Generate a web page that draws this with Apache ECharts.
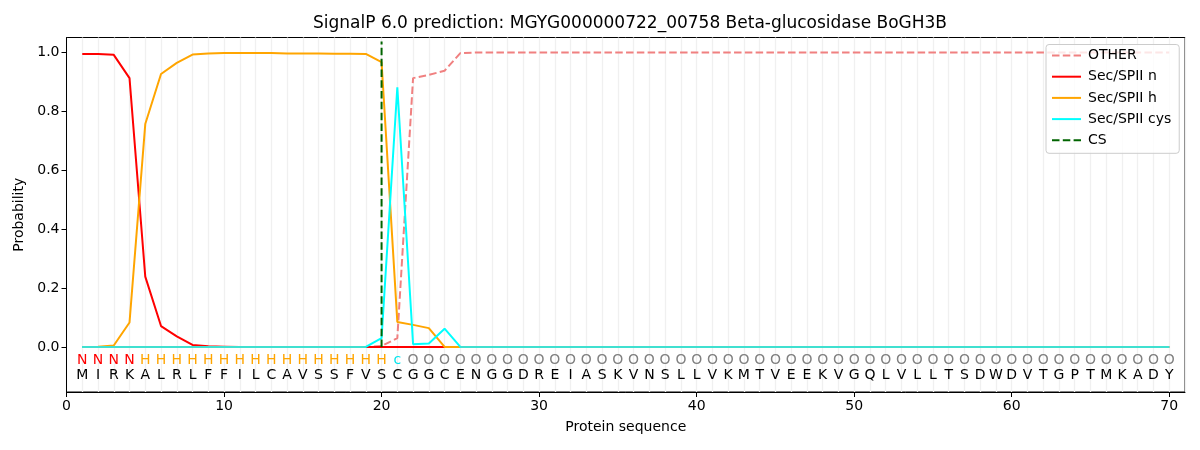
<!DOCTYPE html>
<html>
<head>
<meta charset="utf-8">
<script src="https://cdn.jsdelivr.net/npm/echarts@6/dist/echarts.min.js"></script>
<style>html,body{margin:0;padding:0;background:#fff}#c{width:1200px;height:450px}</style>
</head>
<body>
<div id="c"></div>
<script>
const titleText = 'SignalP 6.0 prediction: MGYG000000722_00758 Beta-glucosidase BoGH3B';
const sequence = ['M','I','R','K','A','L','R','L','F','F','I','L','C','A','V','S','S','F','V','S','C','G','G','C','E','N','G','G','D','R','E','I','A','S','K','V','N','S','L','L','V','K','M','T','V','E','E','K','V','G','Q','L','V','L','L','T','S','D','W','D','V','T','G','P','T','M','K','A','D','Y'];
const regionLabels = ['N','N','N','N','H','H','H','H','H','H','H','H','H','H','H','H','H','H','H','H','c','O','O','O','O','O','O','O','O','O','O','O','O','O','O','O','O','O','O','O','O','O','O','O','O','O','O','O','O','O','O','O','O','O','O','O','O','O','O','O','O','O','O','O','O','O','O','O','O','O'];
const otherProb = [0,0,0,0,0,0,0,0,0,0,0,0,0,0,0,0,0,0,0,0.003,0.03,0.913,0.924,0.938,0.998,1,1,1,1,1,1,1,1,1,1,1,1,1,1,1,1,1,1,1,1,1,1,1,1,1,1,1,1,1,1,1,1,1,1,1,1,1,1,1,1,1,1,1,1,1];
const nProb = [0.995,0.995,0.992,0.913,0.239,0.071,0.036,0.007,0.002,0.001,0,0,0,0,0,0,0,0,0,0,0,0,0,0,0,0,0,0,0,0,0,0,0,0,0,0,0,0,0,0,0,0,0,0,0,0,0,0,0,0,0,0,0,0,0,0,0,0,0,0,0,0,0,0,0,0,0,0,0,0];
const hProb = [0,0.001,0.005,0.083,0.757,0.927,0.965,0.993,0.997,0.998,0.998,0.998,0.998,0.997,0.997,0.997,0.996,0.996,0.995,0.967,0.085,0.075,0.064,0,0,0,0,0,0,0,0,0,0,0,0,0,0,0,0,0,0,0,0,0,0,0,0,0,0,0,0,0,0,0,0,0,0,0,0,0,0,0,0,0,0,0,0,0,0,0];
const cysProb = [0,0,0,0,0,0,0,0,0,0,0,0,0,0,0,0,0,0,0,0.03,0.882,0.009,0.012,0.062,0,0,0,0,0,0,0,0,0,0,0,0,0,0,0,0,0,0,0,0,0,0,0,0,0,0,0,0,0,0,0,0,0,0,0,0,0,0,0,0,0,0,0,0,0,0];
const baselineProb = [0,0,0,0,0,0,0,0,0,0,0,0,0,0,0,0,0,0,0,null,null,null,null,null,0,0,0,0,0,0,0,0,0,0,0,0,0,0,0,0,0,0,0,0,0,0,0,0,0,0,0,0,0,0,0,0,0,0,0,0,0,0,0,0,0,0,0,0,0,0];
const csPosition = 20;
const csTop = 1.037;
const xTicks = [0,10,20,30,40,50,60,70];
const yTicks = [0,0.2,0.4,0.6,0.8,1.0];
const regionRowY = -0.047;
const seqRowY = -0.096;

const regionColors = {N:'#ff0000', H:'#ffa500', c:'#00e5ee', O:'#808080'};
const positions = sequence.map((_, i) => i + 1);
const pairs = arr => arr.map((v, i) => [positions[i], v]);

const regionData = regionLabels.map((l, i) => [positions[i], regionRowY, l]);
const seqData = sequence.map((l, i) => [positions[i], seqRowY, l]);

function textSeries(data, colorFn) {
  return {
    type: 'custom', xAxisIndex: 0, yAxisIndex: 0, silent: true, z: 20,
    data: data,
    renderItem: function (params, api) {
      const p = api.coord([api.value(0), api.value(1)]);
      const t = data[params.dataIndex][2];
      return { type: 'text', style: { text: t, x: p[0], y: p[1], fill: colorFn(t), align: 'center', verticalAlign: 'middle', font: '14px "DejaVu Sans"' } };
    }
  };
}

const font = '"DejaVu Sans", sans-serif';
const chart = echarts.init(document.getElementById('c'));
chart.setOption({
  animation: false,
  backgroundColor: '#fff',
  textStyle: { fontFamily: font },
  title: { text: titleText, left: 625, top: 10, textAlign: 'center', textStyle: { fontFamily: font, fontSize: 17, fontWeight: 'normal', color: '#000' } },
  grid: { left: 66.5, right: 15, top: 37.5, bottom: 58, show: true, borderColor: '#000', borderWidth: 1, backgroundColor: 'transparent' },
  legend: {
    left: 1046, top: 44.5, orient: 'vertical',
    backgroundColor: 'rgba(255,255,255,0.8)', borderColor: '#cccccc', borderWidth: 1, borderRadius: 3,
    padding: [4, 8, 6, 5], itemWidth: 29, itemHeight: 14, itemGap: 7.2,
    itemStyle: { color: 'rgba(0,0,0,0)', borderWidth: 0, opacity: 0 },
    textStyle: { fontFamily: font, fontSize: 14, color: '#000', padding: [0, 0, 0, 2] },
    data: ['OTHER', 'Sec/SPII n', 'Sec/SPII h', 'Sec/SPII cys', 'CS']
  },
  xAxis: [
    { type: 'value', min: 0, max: 71, interval: 10, name: 'Protein sequence', nameLocation: 'middle', nameGap: 28,
      nameTextStyle: { fontFamily: font, fontSize: 14, color: '#000' },
      axisLine: { show: true, onZero: false, lineStyle: { color: '#000', width: 1 } },
      axisTick: { show: true, length: 5, lineStyle: { color: '#000' }, customValues: xTicks },
      axisLabel: { fontFamily: font, fontSize: 14, color: '#000', margin: 7, customValues: xTicks, formatter: v => String(v) },
      splitLine: { show: false } },
    { type: 'value', min: 0, max: 71, interval: 1, show: true, position: 'bottom', gridIndex: 0,
      axisLine: { show: false }, axisTick: { show: false }, axisLabel: { show: false },
      splitLine: { show: true, lineStyle: { color: '#f0f0f0', width: 1.3 } } }
  ],
  yAxis: {
    type: 'value', min: -0.153, max: 1.051, name: 'Probability', nameLocation: 'middle', nameGap: 38,
    nameTextStyle: { fontFamily: font, fontSize: 14, color: '#000' },
    axisLine: { show: true, onZero: false, lineStyle: { color: '#000', width: 1 } },
    axisTick: { show: true, length: 5, lineStyle: { color: '#000' }, customValues: yTicks },
    axisLabel: { fontFamily: font, fontSize: 14, color: '#000', margin: 7, customValues: yTicks, formatter: v => v.toFixed(1) },
    splitLine: { show: false }
  },
  series: [
    { name: 'OTHER', type: 'line', data: pairs(otherProb), symbol: 'none', z: 3,
      lineStyle: { color: '#f08080', width: 2, type: [7.5, 3.3] }, itemStyle: { color: '#f08080' } },
    { name: 'Sec/SPII n', type: 'line', data: pairs(nProb), symbol: 'none', z: 4,
      lineStyle: { color: '#ff0000', width: 2 }, itemStyle: { color: '#ff0000' } },
    { name: 'Sec/SPII h', type: 'line', data: pairs(hProb), symbol: 'none', z: 5,
      lineStyle: { color: '#ffa500', width: 2 }, itemStyle: { color: '#ffa500' } },
    { name: 'Sec/SPII cys', type: 'line', data: pairs(cysProb), symbol: 'none', z: 6,
      lineStyle: { color: '#00ffff', width: 2 }, itemStyle: { color: '#00ffff' } },
    { name: 'baseline', type: 'line', data: pairs(baselineProb), symbol: 'none', z: 7, connectNulls: false,
      lineStyle: { color: '#40e0d0', width: 2 }, itemStyle: { color: '#40e0d0' } },
    { name: 'CS', type: 'line', data: [[csPosition, 0], [csPosition, csTop]], symbol: 'none', z: 8,
      lineStyle: { color: '#006400', width: 2, type: [7.5, 3.3] }, itemStyle: { color: '#006400' } },
    textSeries(regionData, t => regionColors[t]),
    textSeries(seqData, () => '#000')
  ]
});
</script>
</body>
</html>
